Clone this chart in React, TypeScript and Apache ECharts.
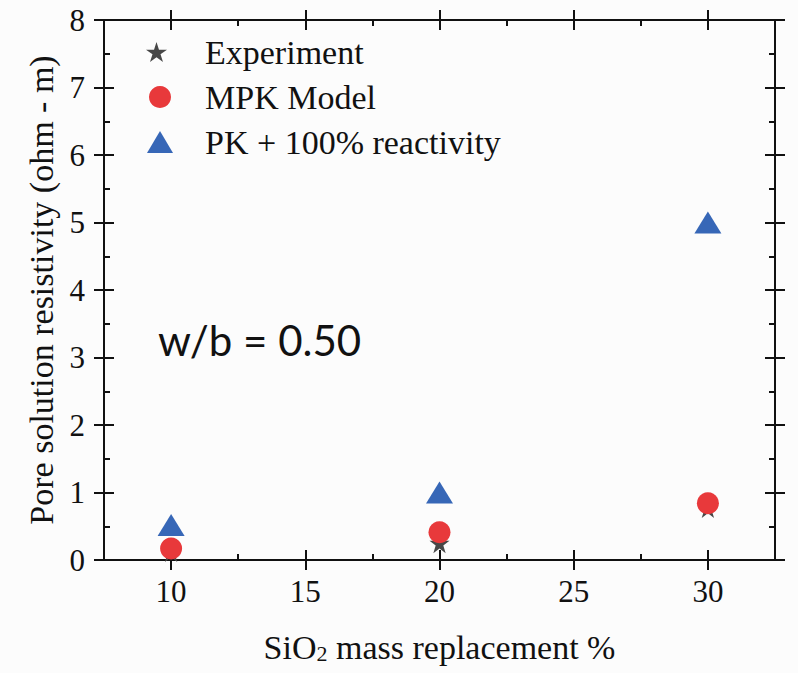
import React, { useEffect, useRef } from "react";
import * as echarts from "echarts";

const seriesNames = ["Experiment", "MPK Model", "PK + 100% reactivity"];
const replacement = [10, 20, 30];
const experiment = [0.12, 0.25, 0.77];
const mpkModel = [0.17, 0.41, 0.84];
const pkReactivity = [0.52, 1.0, 5.0];

const xRange = [7.5, 32.5];
const yRange = [0, 8];
const xTickSlots = [7.5, 10, 12.5, 15, 17.5, 20, 22.5, 25, 27.5, 30, 32.5];
const majorX = [10, 15, 20, 25, 30];
const annotation = "w/b = 0.50";
const yTitle = "Pore solution resistivity (ohm - m)";

const STAR =
  "path://M50,0L61.2,34.5L97.6,34.5L68.2,55.9L79.4,90.5L50,69.1L20.6,90.5L31.8,55.9L2.4,34.5L38.8,34.5Z";
const INK = "#111111";
const SERIF = "serif";
const tickLine = { color: INK, width: 2 };
const axisLine = { show: true, onZero: false, lineStyle: { color: INK, width: 2 } };

function valueAxis(
  dim: "x" | "y",
  position: string,
  interval: number,
  length: number,
  inside: boolean,
  extra: any = {}
) {
  const range = dim === "x" ? xRange : yRange;
  return {
    type: "value",
    position,
    min: range[0],
    max: range[1],
    interval,
    axisLine,
    axisTick: { show: true, inside, length, lineStyle: tickLine },
    axisLabel: { show: false },
    splitLine: { show: false },
    ...extra,
  };
}

function majorXTicks(position: string, inside: boolean) {
  return {
    type: "category",
    position,
    data: xTickSlots.map(String),
    boundaryGap: false,
    axisLine,
    axisLabel: { show: false },
    splitLine: { show: false },
    axisTick: {
      show: true,
      inside,
      length: 10,
      interval: (_i: number, v: string) => majorX.indexOf(Number(v)) >= 0,
      lineStyle: tickLine,
    },
  };
}

export default function App() {
  const ref = useRef<HTMLDivElement>(null);
  useEffect(() => {
    if (!ref.current) return;
    const chart = echarts.init(ref.current, null, { renderer: "svg" });
    const xAxes = [
      valueAxis("x", "bottom", 2.5, 6, true, {
        axisLabel: {
          show: true,
          fontFamily: SERIF,
          fontSize: 31,
          color: INK,
          margin: 16,
          formatter: (v: number) => (majorX.indexOf(v) >= 0 ? String(v) : ""),
        },
        name: "{a|SiO}{b|2}{a| mass replacement %}",
        nameLocation: "middle",
        nameGap: 70,
        nameTextStyle: {
          rich: {
            a: { fontFamily: SERIF, fontSize: 34, color: INK },
            b: { fontFamily: SERIF, fontSize: 22, color: INK, padding: [12, 0, 0, 0] },
          },
        },
      }),
      valueAxis("x", "top", 2.5, 6, true),
      majorXTicks("bottom", true),
      majorXTicks("bottom", false),
      majorXTicks("top", true),
      majorXTicks("top", false),
    ];
    const yAxes = [
      valueAxis("y", "left", 1, 10, true, {
        axisLabel: { show: true, fontFamily: SERIF, fontSize: 31, color: INK, margin: 19 },
        name: yTitle,
        nameLocation: "middle",
        nameGap: 42,
        nameRotate: 90,
        nameTextStyle: { fontFamily: SERIF, fontSize: 34, color: INK },
      }),
      valueAxis("y", "left", 1, 10, false),
      valueAxis("y", "left", 0.5, 6, true),
      valueAxis("y", "right", 1, 10, true),
      valueAxis("y", "right", 1, 10, false),
      valueAxis("y", "right", 0.5, 6, true),
    ];
    const legendText = (pad: number) => ({
      fontFamily: SERIF,
      fontSize: 34,
      color: INK,
      lineHeight: 34,
      padding: [0, 0, 0, pad],
    });
    const option: any = {
      animation: false,
      backgroundColor: "#fcfcfc",
      textStyle: { fontFamily: SERIF },
      grid: { left: 104, right: 23, top: 20, bottom: 113, outerBoundsMode: "none" },
      xAxis: xAxes,
      yAxis: yAxes,
      legend: [
        {
          data: [{ name: seriesNames[0], icon: STAR }],
          left: 146, top: 35, padding: 0, itemWidth: 21, itemHeight: 21,
          selectedMode: false, textStyle: legendText(33),
        },
        {
          data: [{ name: seriesNames[1], icon: "circle" }],
          left: 149, top: 80, padding: 0, itemWidth: 22, itemHeight: 22,
          selectedMode: false, textStyle: legendText(29),
        },
        {
          data: [{ name: seriesNames[2], icon: "triangle" }],
          left: 147, top: 125, padding: 0, itemWidth: 26, itemHeight: 22,
          selectedMode: false, textStyle: legendText(27),
        },
      ],
      graphic: [
        {
          type: "text",
          left: 158,
          top: 319,
          style: { text: annotation, fontFamily: "Lato", fontSize: 42, fill: INK },
        },
      ],
      series: [
        {
          name: seriesNames[0],
          type: "scatter",
          symbol: STAR,
          symbolSize: 20,
          itemStyle: { color: "#474747", opacity: 1 },
          data: replacement.map((x, i) => [x, experiment[i]]),
        },
        {
          name: seriesNames[1],
          type: "scatter",
          symbol: "circle",
          symbolSize: 22,
          itemStyle: { color: "#e8393b", opacity: 1 },
          data: replacement.map((x, i) => [x, mpkModel[i]]),
        },
        {
          name: seriesNames[2],
          type: "scatter",
          symbol: "triangle",
          symbolSize: [27, 22],
          itemStyle: { color: "#3767b7", opacity: 1 },
          data: replacement.map((x, i) => [x, pkReactivity[i]]),
        },
      ],
    };
    chart.setOption(option);
    return () => chart.dispose();
  }, []);
  return (
    <div
      ref={ref}
      style={{ position: "absolute", left: 0, top: 0, width: 798, height: 673 }}
    />
  );
}
